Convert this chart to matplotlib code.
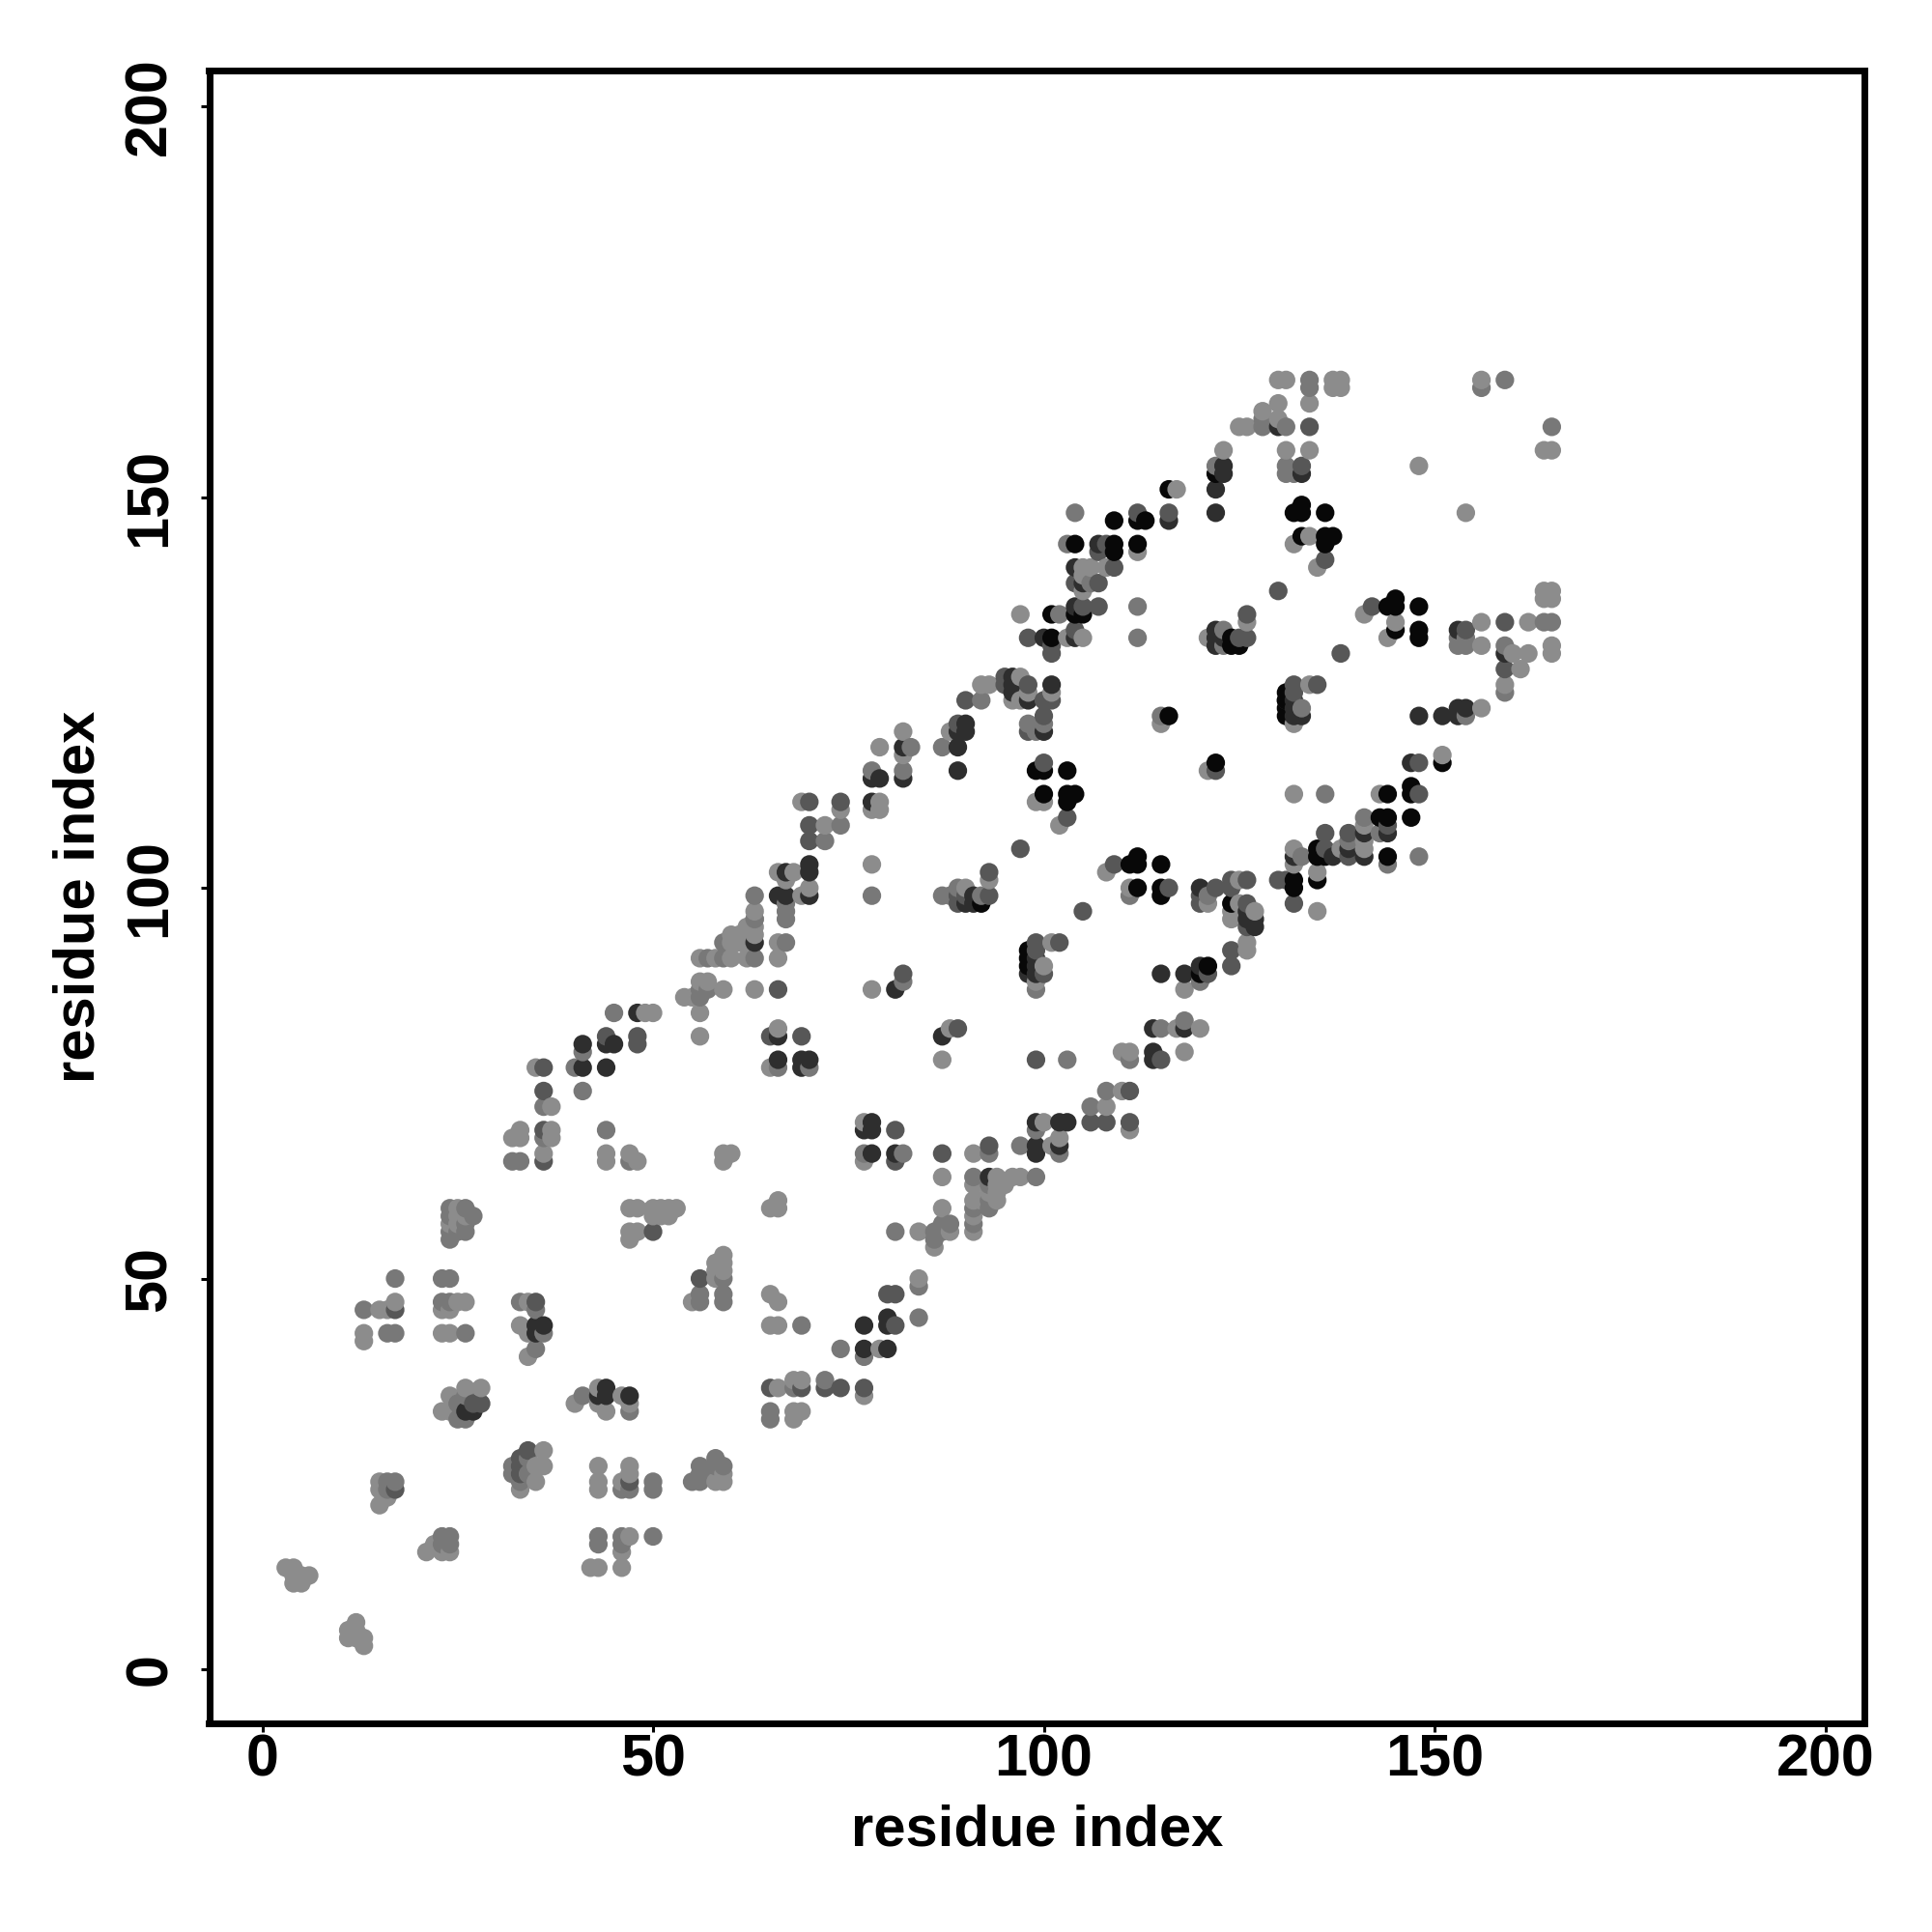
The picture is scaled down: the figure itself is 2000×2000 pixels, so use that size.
import numpy as np
import matplotlib
matplotlib.use("Agg")
import matplotlib.pyplot as plt

plt.rcParams['font.family'] = ['Liberation Sans', 'DejaVu Sans']
plt.rcParams['font.weight'] = 'bold'

TICKS = [0, 50, 100, 150, 200]
AXIS_LABEL = "residue index"

contacts_a = [(3,13),(4,13),(6,12),(4,12),(5,12),(4,11),(5,11),(12,6),(11,5),(12,5),(11,4),(12,4),(13,4),(13,3),
 (17,47),(25,47),(26,47),(15,46),(16,46),(23,46),(24,46),(13,43),(23,43),(24,43),(13,42),(34,47),(33,44),(34,43),(34,40),
 (26,36),(28,36),(24,35),(23,33),(24,33),(40,34),(43,36),(46,35),(43,34),(44,33),(47,34),(36,28),(35,26),(36,26),(35,24),(33,23),
 (43,26),(47,26),(47,25),(43,24),(46,24),(43,23),(15,24),(15,23),(16,22),(15,21),(21,15),(22,16),(23,15),(24,15),(47,17),(46,15),(42,13),(43,13),(46,13),
 (65,77),(87,78),(77,70),(77,65),(87,63),(91,66),(101,67),(102,68),(100,70),(108,72),(94,63),(96,63),(97,63),(91,62),(94,62),(95,62),
 (93,61),(94,61),(91,60),(92,60),(94,60),(87,59),(91,58),(91,56),(88,56),(84,56),(86,54),(59,66),(60,66),(59,65),(66,60),(65,59),(66,59),(53,59),
 (59,53),(58,52),(59,52),(58,51),(59,51),(58,50),(55,47),(65,48),(66,47),(65,44),(66,44),(84,50),(79,41),(66,36),(68,37),(69,37),(77,35),(68,33),(69,33),(68,32),
 (59,25),(58,24),(59,24),(63,96),(62,95),(63,95),(60,94),(61,94),(62,94),(63,94),(60,93),(61,93),(62,93),(66,93),
 (56,91),(58,91),(60,91),(62,91),(66,91),(56,88),(57,88),(59,87),(63,87),(78,87),(54,86),(55,86),(56,84),(49,84),(50,84),(56,81),(66,82),(35,77),(37,72),(33,69),(37,69),(32,68),(33,68),(37,68),(36,66),(44,66),(47,66),(44,65),(48,65),
 (47,59),(48,59),(50,59),(51,59),(52,59),(53,59),(50,58),(51,58),(52,58),(47,56),(48,56),(47,55),
 (92,126),(93,126),(97,127),(98,125),(101,125),(96,124),(97,124),(88,120),(79,118),(82,120),(82,117),(99,111),(100,111),(102,108),(79,111),(79,110),(78,110),
 (115,121),(121,115),(132,112),(108,102),(111,100),(90,100),(93,101),(78,103),(121,98),(125,101),(125,98),(124,97),(127,97),(124,96),(126,93),(126,92),(101,93),(100,90),(99,88),
 (88,82),(87,78),(117,82),(120,82),(118,79),(110,79),(111,79),(110,74),(108,72),(111,69),(132,105),(132,103),(132,121),(118,87),
 (130,165),(131,165),(137,165),(138,165),(137,164),(138,164),(130,162),(134,162),(128,161),(130,160),(125,159),(126,159),(123,156),(131,156),(134,156),
 (117,151),(134,145),(132,144),(112,143),(105,141),(106,141),(108,141),(135,141),(105,140),(105,138),(97,135),(103,132),(105,132),(126,134),(121,132),(134,126),(141,135),(145,134),(144,132),
 (156,165),(164,156),(165,156),(148,154),(154,148),(156,134),(162,134),(164,138),(165,138),(164,137),(165,137),(156,131),(160,130),(162,130),(165,131),(165,130),(161,128),(159,126),(156,123),
 (151,117),(143,112),(141,108),(141,106),(138,105),(141,105),(135,102),(135,97),(69,111),(74,110),(66,102),(68,102),(67,101),(70,100),(69,99),(63,97),(72,108),
 (25,58),(25,57),(24,57),(26,58),(25,59)]

contacts_b = [(17,50),(23,50),(24,50),(23,47),(24,47),(13,46),(16,43),(17,43),(26,43),(33,47),(35,46),(36,43),(35,41),(26,35),(25,34),(25,32),(26,32),(41,35),(47,33),
 (34,27),(32,26),(32,25),(34,25),(33,24),(50,24),(46,23),(47,23),(50,23),(16,24),(17,24),(16,23),(23,17),(24,17),(23,16),(24,16),(43,17),(43,16),(46,17),(50,17),(46,16),
 (24,59),(26,59),(24,58),(27,58),(26,57),(24,56),(25,56),(26,56),(24,55),
 (66,77),(70,77),(77,66),(82,66),(93,66),(97,67),(102,66),(99,69),(106,72),(108,74),(91,63),(99,63),(93,62),(93,60),(91,59),(93,59),(91,57),(88,57),(87,57),(86,56),(87,56),(81,56),(86,55),
 (59,50),(56,48),(59,48),(56,47),(59,47),(69,44),(84,49),(84,45),(74,41),(77,40),(68,36),(72,37),(65,33),(65,32),(58,27),(56,26),(59,26),(58,26),(56,25),(57,25),(55,24),(56,24),
 (59,93),(67,93),(57,91),(59,91),(63,91),(56,87),(57,87),(56,86),(45,84),(41,79),(40,77),(41,74),(36,72),(44,69),(36,68),(32,65),(33,65),(47,65),(67,96),
 (83,118),(87,118),(92,124),(98,121),(100,121),(99,120),(82,115),(78,115),(103,78),(115,82),(118,83),(111,78),(115,122),(89,100),(87,99),(88,99),(92,99),(111,99),(78,99),(121,99),
 (99,87),(82,88),(120,88),(133,123),(133,104),(104,148),(112,136),(112,132),(134,165),(134,164),(128,160),(128,159),(122,154),(131,154),(131,153),(132,153),(103,144),(106,139),(102,135),(123,133),(123,131),
 (156,164),(159,165),(165,159),(153,131),(154,131),(153,132),(154,132),(164,134),(165,134),(159,131),(159,125),(154,122),(136,112),(143,107),(139,106),(148,104),(144,103),(141,109),
 (74,108),(72,106),(67,98),(67,97),(63,99),(63,96),(131,159)]

contacts_c = [(17,46),(35,47),(27,34),(28,34),(34,28),(33,27),(33,26),(33,25),(47,24),(17,23),
 (81,65),(93,67),(106,70),(108,70),(65,36),(69,36),(72,36),(74,36),(77,36),(56,50),(80,48),(81,48),(81,44),(81,69),(87,66),(111,70),
 (66,87),(65,81),(69,81),(44,81),(48,81),(48,80),(36,77),(36,74),(36,69),(36,65),(50,56),
 (95,127),(95,126),(98,126),(100,124),(101,124),(90,124),(89,121),(100,122),(98,120),(100,116),(103,109),(97,105),
 (109,103),(116,100),(89,99),(90,99),(89,98),(93,102),(93,99),(105,97),(120,99),(120,98),(122,100),(124,101),(124,100),(126,101),(126,98),(126,95),(124,92),(124,90),(121,89),(99,93),(102,93),(99,92),(100,89),
 (89,82),(82,89),(115,78),(99,78),(111,74),(132,126),(132,125),(132,98),(130,101),(131,101),(135,126),(122,115),
 (134,159),(133,154),(112,148),(116,148),(108,144),(107,143),(136,142),(109,141),(104,139),(107,139),(130,138),(105,136),(107,136),(104,133),(98,132),(126,135),(125,132),(126,132),(101,131),(101,130),(138,130),(142,136),
 (154,133),(159,134),(159,128),(148,116),(148,112),(144,108),(139,107),(136,107),(136,105),(139,104),(70,111),(74,111),(70,108),(70,106)]

contacts_d = [(35,44),(36,44),(35,43),(26,33),(27,33),(44,36),(43,35),(44,35),(47,35),
 (66,78),(70,78),(78,70),(78,69),(77,69),(78,66),(81,66),(99,67),(99,66),(99,70),(102,67),(102,70),(103,70),(93,63),(80,45),(80,44),(77,44),(77,41),(80,41),
 (63,93),(48,84),(66,81),(44,80),(45,80),(41,80),(41,77),(44,77),(69,78),(69,77),(81,87),
 (96,127),(96,126),(101,126),(96,125),(98,124),(89,120),(90,120),(100,120),(90,121),(82,118),(89,118),(89,115),(82,114),(79,114),(78,114),(78,111),
 (131,124),(132,124),(132,123),(132,122),(133,122),(91,99),(90,98),(91,98),(120,100),(126,97),(126,96),(127,96),(127,95),(120,90),(118,89),(115,89),(99,91),(99,90),(98,89),(99,89),
 (87,81),(114,82),(118,82),(114,79),(114,78),(67,102),(70,103),(70,102),(70,99),(66,99),(67,99),
 (123,154),(123,153),(130,159),(133,153),(122,151),(122,148),(116,147),(104,141),(107,144),(105,139),(104,136),(100,132),(104,132),(122,133),(122,132),(123,132),(122,131),
 (153,133),(159,130),(148,122),(151,122),(153,123),(154,123),(153,122),(147,116),(141,107),(144,107),(139,105),(137,104),(141,104),(132,104)]

contacts_e = [(131,125),(131,124),(131,123),(131,122),(100,115),(99,115),(103,115),(100,112),(103,112),(104,112),(103,111),(111,103),(112,104),(112,103),(115,103),(112,100),(115,100),(115,99),
 (92,98),(121,90),(120,89),(124,98),(132,101),(132,100),(98,92),(98,91),(98,90),(116,122),(122,116),(122,153),
 (116,151),(132,148),(133,149),(133,148),(136,148),(109,147),(112,147),(113,147),(133,145),(136,145),(137,145),(104,144),(109,144),(112,144),(136,144),(109,143),(101,135),(104,135),(105,135),(101,132),(124,132),(124,131),(125,131),(144,136),(145,137),(145,136),(145,133),
 (148,136),(148,133),(148,132),(151,116),(147,113),(144,112),(147,112),(143,109),(144,109),(147,109),(135,105),(135,104),(136,104),(144,104),(135,101)]

gray_a, gray_b, gray_c, gray_d, gray_e = 0.55, 0.47, 0.34, 0.18, 0.03
groups = [(contacts_a, gray_a), (contacts_b, gray_b), (contacts_c, gray_c), (contacts_d, gray_d), (contacts_e, gray_e)]

xs, ys, gs = [], [], []
for pts, g in groups:
    for (i, j) in sorted(set(pts)):
        xs.append(i); ys.append(j); gs.append(g)
xs, ys, gs = np.array(xs), np.array(ys), np.array(gs)
order = np.lexsort((ys, xs))

W = 2000
fig = plt.figure(figsize=(20, 20), dpi=100, facecolor='white')
ax = fig.add_axes([216.5/W, 1 - 1784/W, (1930-216.5)/W, (1784-73)/W])
ax.scatter(xs[order], ys[order], s=192, c=[str(round(float(v), 3)) for v in gs[order]], linewidths=0, zorder=3)
ax.set_xlim(-6.8, 205.0)
ax.set_ylim(-6.92, 204.6)
ax.set_xticks(TICKS)
ax.set_yticks(TICKS)
for s in ax.spines.values():
    s.set_linewidth(5)
ax.tick_params(axis='x', length=6.8, width=2.2, pad=1, labelsize=44)
ax.tick_params(axis='y', length=6.8, width=2.2, pad=16, labelsize=44)
for t in ax.get_yticklabels():
    t.set_rotation(90)
    t.set_va('center')
    t.set_ha('right')
ax.set_xlabel(AXIS_LABEL, fontsize=43, fontweight='bold', labelpad=11)
ax.set_ylabel(AXIS_LABEL, fontsize=43, fontweight='bold', labelpad=13)
fig.savefig('out.png', dpi=100)
